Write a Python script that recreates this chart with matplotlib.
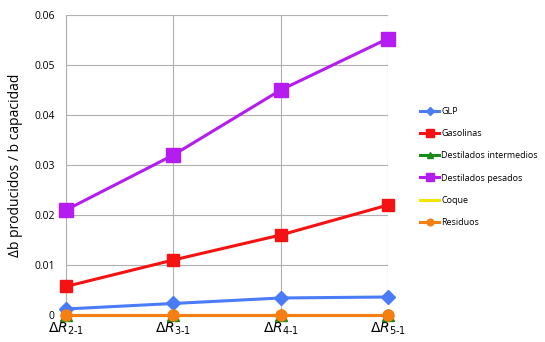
import matplotlib.pyplot as plt
import numpy as np

categories = [r"$\Delta R_{2\text{-}1}$", r"$\Delta R_{3\text{-}1}$", r"$\Delta R_{4\text{-}1}$", r"$\Delta R_{5\text{-}1}$"]
glp = [0.0012, 0.0023, 0.0034, 0.0036]
gasolinas = [0.0057, 0.011, 0.016, 0.022]
dest_inter = [0.0, 0.0, 0.0, 0.0]
dest_pesados = [0.021, 0.032, 0.045, 0.0553]
coque = [0.0, 0.0, 0.0, 0.0]
residuos = [0.0, 0.0, 0.0, 0.0]
yticks = [0, 0.01, 0.02, 0.03, 0.04, 0.05, 0.06]
ytick_labels = ["0", "0.01", "0.02", "0.03", "0.04", "0.05", "0.06"]

plt.rcParams['font.family'] = ['Open Sans', 'DejaVu Sans']
fig = plt.figure(figsize=(5.45, 3.42), dpi=100)
ax = fig.add_axes([0.121, 0.079, 0.591, 0.877])
x = np.arange(len(categories))

series = [
    ("GLP", glp, "#4a7cf7", "D", 7),
    ("Gasolinas", gasolinas, "#f51212", "s", 9),
    ("Destilados intermedios", dest_inter, "#1a8a1a", "^", 8),
    ("Destilados pesados", dest_pesados, "#b41cf0", "s", 10),
    ("Coque", coque, "#f5e400", "", 0),
    ("Residuos", residuos, "#f57f12", "o", 8),
]
for name, vals, c, m, ms in series:
    ax.plot(x, vals, color=c, lw=2.2, marker=m if m else None, ms=ms,
            label=name, clip_on=False, zorder=3)

ax.set_xlim(0, 3)
ax.set_ylim(0, 0.06)
ax.set_xticks(x)
ax.set_xticklabels(categories, fontsize=10)
ax.set_yticks(yticks)
ax.set_yticklabels(ytick_labels, fontsize=7.5)
ax.grid(True, color="#b0b0b0", lw=0.8)
ax.set_axisbelow(True)
for s in ["top", "right", "bottom"]:
    ax.spines[s].set_visible(False)
ax.spines["left"].set_color("#b0b0b0")
ax.tick_params(length=0, pad=8)
ax.tick_params(axis='x', pad=4)
ax.set_ylabel("Δb producidos / b capacidad", fontsize=10, labelpad=8)

leg = fig.legend(loc="upper left", bbox_to_anchor=(0.755, 0.71), frameon=False,
                 fontsize=6.5, handlelength=2.2, labelspacing=1.45, handletextpad=0.2,
                 markerscale=0.6)
fig.savefig("out.png", dpi=100)
